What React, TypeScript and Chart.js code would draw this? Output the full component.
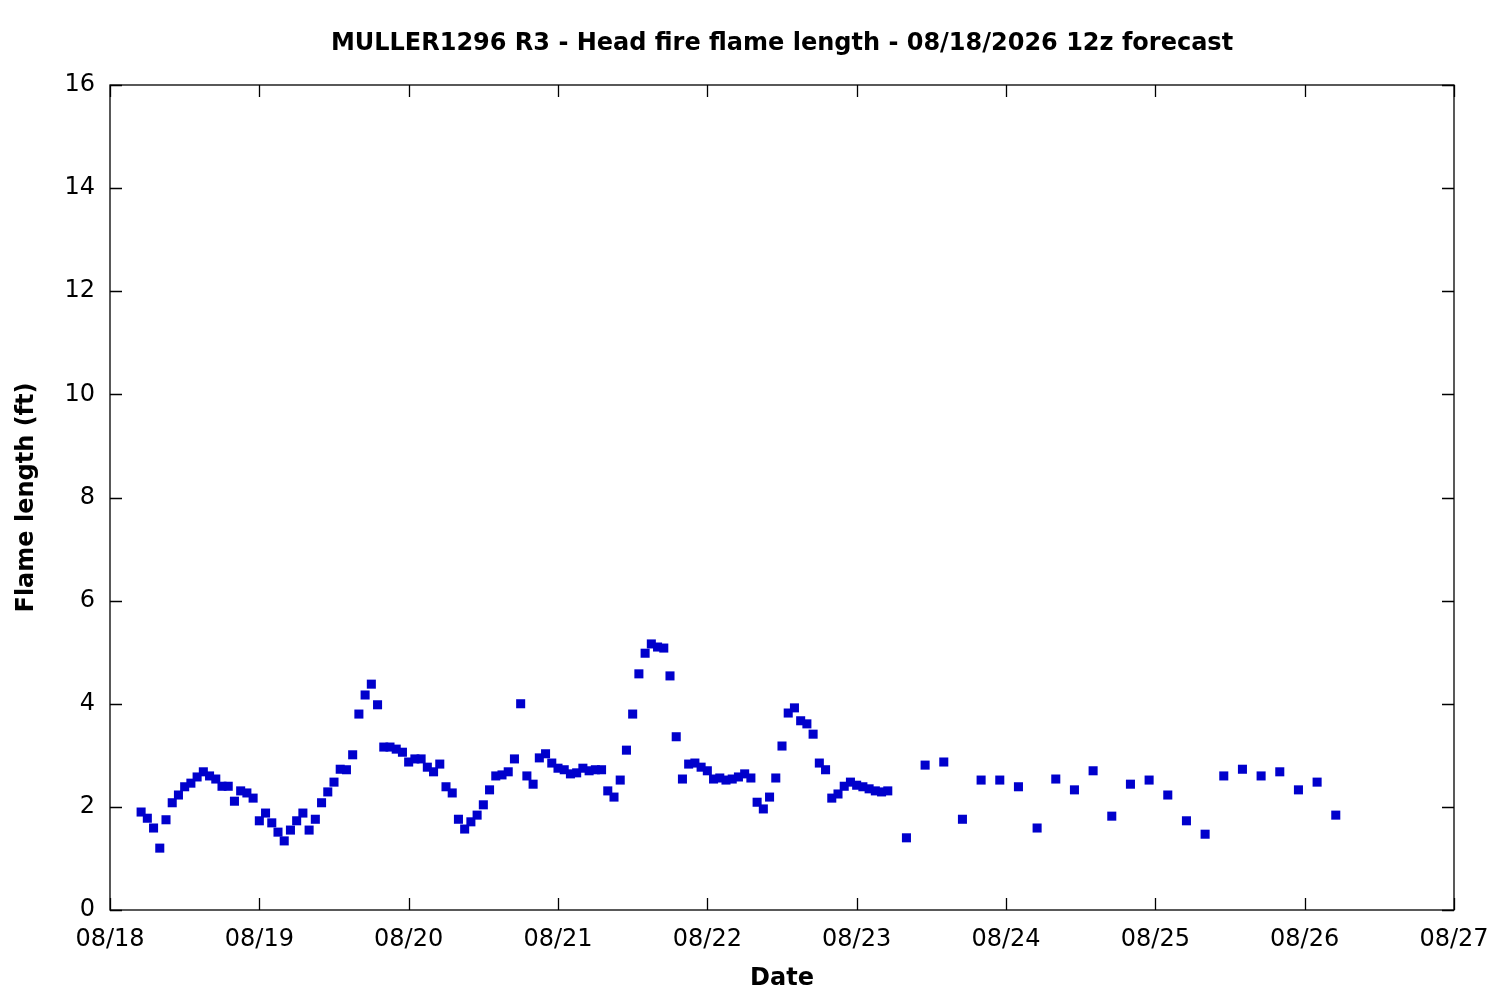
import Chart from 'chart.js/auto';
import { useEffect, useRef } from 'react';

const titleText = 'MULLER1296 R3 - Head fire flame length - 08/18/2026 12z forecast';
const dateLabels = ['08/18', '08/19', '08/20', '08/21', '08/22', '08/23', '08/24', '08/25', '08/26', '08/27'];

// hourly output, first valid hour = 05 on 08/18
const hourlyStart = 5;
const hourlyFlame = [
	1.9, 1.78, 1.59, 1.2, 1.75, 2.08, 2.23, 2.39, 2.46, 2.58,
	2.68, 2.6, 2.54, 2.4, 2.4, 2.11, 2.31, 2.27, 2.17, 1.73,
	1.88, 1.69, 1.51, 1.34, 1.55, 1.73, 1.88, 1.55, 1.76, 2.08,
	2.29, 2.48, 2.73, 2.72, 3.01, 3.8, 4.17, 4.38, 3.98, 3.16,
	3.16, 3.12, 3.06, 2.87, 2.93, 2.93, 2.77, 2.68, 2.83, 2.39,
	2.27, 1.76, 1.57, 1.71, 1.84, 2.04, 2.33, 2.6, 2.62, 2.68,
	2.93, 4.0, 2.6, 2.44, 2.95, 3.03, 2.85, 2.75, 2.72, 2.64,
	2.66, 2.75, 2.7, 2.72, 2.72, 2.31, 2.19, 2.52, 3.1, 3.8,
	4.58, 4.98, 5.16, 5.1, 5.08, 4.54, 3.36, 2.54, 2.83, 2.85,
	2.77, 2.7, 2.54, 2.56, 2.52, 2.54, 2.58, 2.64, 2.56, 2.09,
	1.96, 2.19, 2.56, 3.18, 3.82, 3.92, 3.67, 3.61, 3.41, 2.85,
	2.72, 2.17, 2.25, 2.4, 2.48, 2.42, 2.39, 2.35, 2.31, 2.29,
	2.31,
];

// 3-hourly output afterwards
const threeHourlyStart = 128;
const threeHourlyFlame = [
	1.4, 2.81, 2.87, 1.76, 2.52, 2.52, 2.39, 1.59, 2.54, 2.33,
	2.7, 1.82, 2.44, 2.52, 2.23, 1.73, 1.47, 2.6, 2.73, 2.6,
	2.68, 2.33, 2.48, 1.84,
];

const FONT = 'DejaVu Sans';

const points = [
	...hourlyFlame.map((y, i) => ({ x: hourlyStart + i, y })),
	...threeHourlyFlame.map((y, i) => ({ x: threeHourlyStart + i * 3, y })),
];

// gnuplot-like frame: full border plus inward ticks on all four sides
const frameTicks = {
	id: 'frameTicks',
	afterDraw(chart: any) {
		const { ctx, chartArea: a, scales } = chart;
		const len = 12;
		ctx.save();
		ctx.strokeStyle = '#000';
		ctx.lineWidth = 1.3;
		ctx.strokeRect(a.left, a.top, a.right - a.left, a.bottom - a.top);
		ctx.beginPath();
		scales.x.ticks.forEach((t: any) => {
			const px = Math.round(scales.x.getPixelForValue(t.value)) + 0.5;
			ctx.moveTo(px, a.bottom);
			ctx.lineTo(px, a.bottom - len);
			ctx.moveTo(px, a.top);
			ctx.lineTo(px, a.top + len);
		});
		scales.y.ticks.forEach((t: any) => {
			const py = Math.round(scales.y.getPixelForValue(t.value)) + 0.5;
			ctx.moveTo(a.left, py);
			ctx.lineTo(a.left + len, py);
			ctx.moveTo(a.right, py);
			ctx.lineTo(a.right - len, py);
		});
		ctx.stroke();
		ctx.restore();
	},
};

export default function App() {
	const chartRef = useRef<HTMLCanvasElement>(null);

	useEffect(() => {
		if (!chartRef.current) return;
		const chart = new Chart(chartRef.current, {
			type: 'scatter',
			data: {
				datasets: [
					{
						label: 'Flame length',
						data: points,
						pointStyle: 'rect',
						pointRadius: 6.4,
						pointBorderWidth: 0,
						backgroundColor: 'rgb(0,0,204)',
						borderColor: 'rgb(0,0,204)',
					},
				],
			},
			options: {
				animation: false,
				responsive: true,
				maintainAspectRatio: false,
				layout: { padding: { left: 0, right: 46, top: 0, bottom: 0 } },
				plugins: {
					legend: { display: false },
					tooltip: { enabled: false },
					title: {
						display: true,
						text: titleText,
						fullSize: false,
						color: '#000',
						font: { family: FONT, size: 24, weight: 'bold', lineHeight: 1.2 },
						padding: { top: 29, bottom: 27.2 },
					},
				},
				scales: {
					x: {
						type: 'linear',
						min: 0,
						max: 216,
						afterFit: (s: any) => {
							s.height = 90;
							s.paddingLeft = 0;
							s.paddingRight = 0;
						},
						grid: { display: false, drawTicks: false },
						border: { display: false },
						ticks: {
							stepSize: 24,
							autoSkip: false,
							maxRotation: 0,
							padding: 15,
							color: '#000',
							font: { family: FONT, size: 24 },
							callback: (v: any) => dateLabels[Math.round(Number(v) / 24)] ?? '',
						},
						title: {
							display: true,
							text: 'Date',
							color: '#000',
							font: { family: FONT, size: 24, weight: 'bold', lineHeight: 1.2 },
							padding: { top: 0, bottom: 6.6 },
						},
					},
					y: {
						min: 0,
						max: 16,
						afterFit: (s: any) => {
							s.width = 110;
							s.paddingTop = 0;
							s.paddingBottom = 0;
						},
						grid: { display: false, drawTicks: false },
						border: { display: false },
						ticks: {
							stepSize: 2,
							padding: 15,
							color: '#000',
							font: { family: FONT, size: 24 },
						},
						title: {
							display: true,
							text: 'Flame length (ft)',
							color: '#000',
							font: { family: FONT, size: 24, weight: 'bold', lineHeight: 1.2 },
							padding: { top: 12.6, bottom: 0 },
						},
					},
				},
			},
			plugins: [frameTicks],
		});
		return () => chart.destroy();
	}, []);

	return (
		<div style={{ position: 'absolute', left: 0, top: 0, width: 1500, height: 1000, background: '#fff' }}>
			<canvas ref={chartRef}></canvas>
		</div>
	);
}
